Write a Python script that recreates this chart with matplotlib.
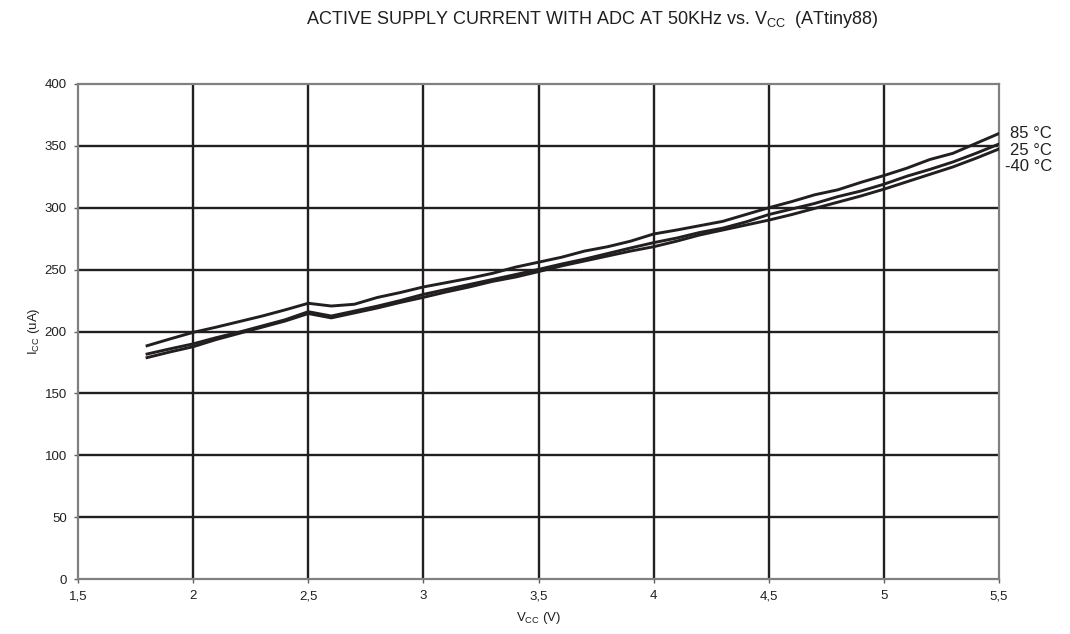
import matplotlib
matplotlib.use('Agg')
import matplotlib.pyplot as plt

matplotlib.rc('font', family='Liberation Sans', size=9.5)
matplotlib.rcParams['mathtext.fontset'] = 'custom'
matplotlib.rcParams['mathtext.rm'] = 'Liberation Sans'
matplotlib.rcParams['mathtext.it'] = 'Liberation Sans'

vcc = [1.8, 1.9, 2.0, 2.1, 2.2, 2.3, 2.4, 2.5, 2.6, 2.7, 2.8, 2.9, 3.0,
       3.1, 3.2, 3.3, 3.4, 3.5, 3.6, 3.7, 3.8, 3.9, 4.0, 4.1, 4.2, 4.3,
       4.4, 4.5, 4.6, 4.7, 4.8, 4.9, 5.0, 5.1, 5.2, 5.3, 5.4, 5.5]

icc_85 = [188.5, 194, 199.3, 203.5, 208, 212.5, 217.5, 222.8, 220.6, 222,
          227.5, 231.5, 236, 239.5, 243, 247, 252, 256, 260, 265, 268.5,
          273, 278.8, 282, 285.5, 289, 294.5, 300, 305, 310.5, 314.5,
          320.5, 326, 332, 339, 344, 352, 360]
icc_25 = [181.8, 186, 190, 195, 199.5, 204.5, 209.5, 216, 212.5, 216.5,
          220.5, 225, 230, 234, 238, 242, 246, 250.2, 254.5, 258.5, 263,
          267.5, 271.8, 275.5, 280, 283.5, 288.5, 294.5, 299, 303.5, 309,
          313.5, 319, 325.5, 331, 337, 344, 351.5]
icc_m40 = [178.9, 183.5, 187.7, 193.5, 198.5, 203.5, 208.5, 214.5, 211, 215,
           219, 223.5, 227.6, 232, 236, 240.5, 244, 248.4, 253, 257, 261,
           265, 268.5, 273, 278, 282, 286, 290, 294.5, 299.5, 304.5, 309.5,
           315, 321, 327, 333, 340, 347.5]

series = [("85 °C", icc_85, 360), ("25 °C", icc_25, 346.5), ("-40 °C", icc_m40, 333)]

xticks = [1.5, 2, 2.5, 3, 3.5, 4, 4.5, 5, 5.5]
xticklabels = ["1,5", "2", "2,5", "3", "3,5", "4", "4,5", "5", "5,5"]
yticks = [0, 50, 100, 150, 200, 250, 300, 350, 400]

fig = plt.figure(figsize=(10.7, 6.34), dpi=100)
ax = fig.add_axes([78 / 1070, 55 / 634, 921 / 1070, 495 / 634])

ink = '#231f20'
for x in xticks[1:-1]:
    ax.axvline(x, color=ink, lw=1.7, zorder=1)
for y in yticks[1:-1]:
    ax.axhline(y, color=ink, lw=1.7, zorder=1)

for name, vals, ly in series:
    ax.plot(vcc, vals, color=ink, lw=2.1, zorder=3, solid_joinstyle='round')
    ax.annotate(name, xy=(5.5, ly), xytext=(38, 0), textcoords='offset points',
                ha='right', va='center', fontsize=12, color=ink,
                annotation_clip=False)

ax.set_xlim(1.5, 5.5)
ax.set_ylim(0, 400)
ax.set_xticks(xticks)
ax.set_xticklabels(xticklabels)
ax.set_yticks(yticks)
for s in ax.spines.values():
    s.set_color('#808080')
    s.set_linewidth(1.6)
ax.tick_params(direction='out', length=3, width=1, color='#606060',
               labelcolor=ink, pad=5)

ax.set_xlabel(r'V$_{\mathrm{CC}}$ (V)', color=ink, fontsize=9.5, labelpad=6)
ax.set_ylabel(r'I$_{\mathrm{CC}}$ (uA)', color=ink, fontsize=9.5, labelpad=2)

fig.text(592 / 1070, 1 - 20 / 634,
         r'ACTIVE SUPPLY CURRENT WITH ADC AT 50KHz vs. V$_{\mathrm{CC}}$  (ATtiny88)',
         ha='center', va='center', fontsize=13, color=ink)

fig.savefig('out.png', dpi=100)
